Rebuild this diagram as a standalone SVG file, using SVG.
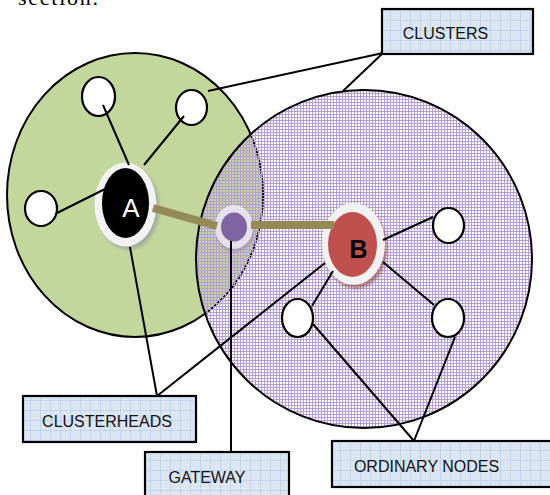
<svg xmlns="http://www.w3.org/2000/svg" width="550" height="495" viewBox="0 0 550 495">
  <defs>
    <!-- fine purple grid used as the fill of cluster B -->
    <pattern id="purpleGrid" width="3" height="3" patternUnits="userSpaceOnUse">
      <rect x="0" y="0" width="3" height="1" fill="#B59ED6"/>
      <rect x="0" y="1" width="1" height="2" fill="#B59ED6"/>
    </pattern>
    <!-- light blue squared paper used in the label boxes -->
    <pattern id="labelGrid" width="10" height="10" patternUnits="userSpaceOnUse">
      <rect width="10" height="10" fill="#DCE6F2"/>
      <path d="M0 0.5H10M0.5 0V10" stroke="#C3D4EA" stroke-width="1"/>
    </pattern>
    <filter id="soft" x="-30%" y="-30%" width="160%" height="160%">
      <feGaussianBlur stdDeviation="1.6"/>
    </filter>
    <style>
      .cluster { stroke: #000; stroke-width: 2; }
      .node { fill: #fff; stroke: #000; stroke-width: 2.2; }
      .wire { stroke: #000; stroke-width: 2; fill: none; }
      .link { stroke: #948A54; stroke-width: 8; fill: none; }
      .box { fill: url(#labelGrid); stroke: #000; stroke-width: 2.2; }
      .lbl { font-family: "Liberation Sans", Arial, sans-serif; font-size: 16px; fill: #111; text-anchor: middle; }
      .halo { fill: #F2F2F2; }
    </style>
  </defs>

  <rect width="550" height="495" fill="#fff"/>

  <!-- tail of the paragraph above the figure -->
  <text x="18" y="5" font-family="'Liberation Serif', 'Times New Roman', serif" font-size="22" textLength="80" fill="#000">section.</text>

  <!-- clusters -->
  <g id="cluster-a">
    <ellipse class="cluster" cx="135" cy="195" rx="128" ry="142" fill="#C3D69B"/>
  </g>
  <g id="cluster-b">
    <ellipse cx="364" cy="259" rx="168" ry="169" fill="url(#purpleGrid)" stroke="none"/>
    <ellipse class="cluster" cx="364" cy="259" rx="168" ry="169" fill="none"/>
  </g>

  <!-- ordinary nodes -->
  <g id="node-a-left"><ellipse class="node" cx="41" cy="208.5" rx="16" ry="17.5"/></g>
  <g id="node-a-top-left"><ellipse class="node" cx="98.5" cy="96.5" rx="16.5" ry="19.5"/></g>
  <g id="node-a-top-right"><ellipse class="node" cx="191.5" cy="107.5" rx="15.5" ry="17.5"/></g>
  <g id="node-b-right"><ellipse class="node" cx="448.5" cy="225.5" rx="15.5" ry="17.5"/></g>
  <g id="node-b-bottom-left"><ellipse class="node" cx="297.5" cy="318" rx="15.5" ry="19"/></g>
  <g id="node-b-bottom-right"><ellipse class="node" cx="448" cy="318" rx="16" ry="19"/></g>

  <!-- cluster head A -->
  <g id="head-a">
    <ellipse cx="128.5" cy="208" rx="31" ry="42" fill="#9C9C9C" opacity="0.7" filter="url(#soft)"/>
    <ellipse class="halo" cx="125.5" cy="204.5" rx="31" ry="42"/>
    <ellipse cx="125.5" cy="203" rx="23.5" ry="35" fill="#000"/>
    <text x="131" y="217" font-family="'Liberation Sans', Arial, sans-serif" font-size="26" fill="#fff" text-anchor="middle">A</text>
  </g>

  <!-- cluster head B -->
  <g id="head-b">
    <ellipse cx="356" cy="248" rx="31.5" ry="41" fill="#8E4A48" opacity="0.6" filter="url(#soft)"/>
    <ellipse class="halo" cx="353.5" cy="244" rx="31.5" ry="41"/>
    <ellipse cx="352.5" cy="244.5" rx="24.5" ry="32.5" fill="#C0504D"/>
    <text x="358.5" y="258" font-family="'Liberation Sans', Arial, sans-serif" font-size="25" font-weight="bold" fill="#000" text-anchor="middle">B</text>
  </g>

  <!-- gateway between the two clusters -->
  <g id="gateway">
    <ellipse cx="235" cy="230" rx="19" ry="22" fill="#8064A2" opacity="0.35" filter="url(#soft)"/>
    <ellipse cx="234" cy="227" rx="19" ry="22" fill="#F1ECF7" opacity="0.85"/>
    <ellipse cx="234" cy="227" rx="13" ry="14.5" fill="#8064A2"/>
  </g>

  <!-- label boxes -->
  <g id="label-clusters">
    <rect class="box" x="382" y="9" width="151" height="45"/>
    <text class="lbl" x="445.5" y="39">CLUSTERS</text>
  </g>
  <g id="label-clusterheads">
    <rect class="box" x="23" y="396" width="173" height="46"/>
    <text class="lbl" x="107" y="427">CLUSTERHEADS</text>
  </g>
  <g id="label-gateway">
    <rect class="box" x="145" y="452" width="144" height="50"/>
    <text class="lbl" x="207" y="483">GATEWAY</text>
  </g>
  <g id="label-ordinary">
    <rect class="box" x="332" y="441" width="224" height="46"/>
    <text class="lbl" x="426.5" y="472">ORDINARY NODES</text>
  </g>

  <!-- connectors -->
  <g id="connectors">
    <!-- links through the gateway -->
    <line class="link" x1="153" y1="208" x2="217" y2="226"/>
    <line class="link" x1="251" y1="225" x2="334" y2="225"/>

    <!-- member links inside cluster A -->
    <line class="wire" x1="103" y1="105" x2="129" y2="165"/>
    <line class="wire" x1="184" y1="116" x2="144" y2="165"/>
    <line class="wire" x1="57" y1="213" x2="107" y2="188"/>

    <!-- member links inside cluster B -->
    <line class="wire" x1="383" y1="240" x2="433" y2="217"/>
    <line class="wire" x1="333" y1="271" x2="312" y2="306"/>
    <line class="wire" x1="383" y1="262" x2="434" y2="305"/>

    <!-- label leaders -->
    <line class="wire" x1="383" y1="53" x2="208" y2="91"/>
    <line class="wire" x1="383" y1="53" x2="343" y2="91"/>
    <line class="wire" x1="130" y1="247" x2="157" y2="396"/>
    <line class="wire" x1="325" y1="263" x2="157" y2="396"/>
    <line class="wire" x1="231" y1="241" x2="231" y2="452"/>
    <line class="wire" x1="313" y1="324" x2="414" y2="441"/>
    <line class="wire" x1="455" y1="337" x2="414" y2="441"/>
  </g>
</svg>
